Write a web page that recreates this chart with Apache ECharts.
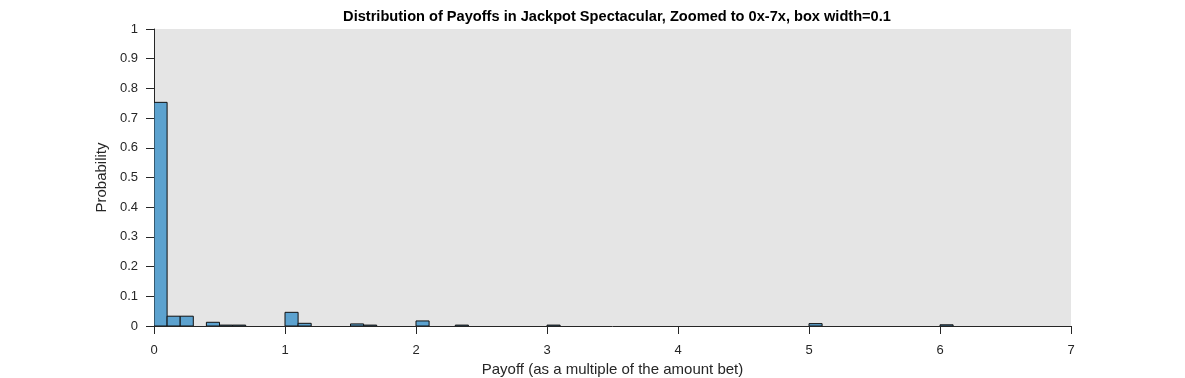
<!DOCTYPE html>
<html>
<head>
<meta charset="utf-8">
<script src="https://cdn.jsdelivr.net/npm/echarts@6/dist/echarts.min.js"></script>
<style>html,body{margin:0;padding:0;background:#fff}#c{width:1185px;height:378px}</style>
</head>
<body>
<div id="c"></div>
<script>
// Bin left edges (payoff, multiple of amount bet) and probabilities, bin width 0.1
const binStarts = [0.0, 0.1, 0.2, 0.4, 0.5, 0.6, 1.0, 1.1, 1.5, 1.6, 2.0, 2.3, 3.0, 5.0, 6.0];
const probabilities = [0.753, 0.033, 0.033, 0.0125, 0.003, 0.003, 0.046, 0.009, 0.007, 0.003, 0.017, 0.003, 0.003, 0.008, 0.004];
const binWidth = 0.1;
const xTicks = [0, 1, 2, 3, 4, 5, 6, 7];
const yTicks = [0, 0.1, 0.2, 0.3, 0.4, 0.5, 0.6, 0.7, 0.8, 0.9, 1];

const chart = echarts.init(document.getElementById('c'), null, {renderer: 'canvas'});
const font = 'Arial, "Liberation Sans", Helvetica, sans-serif';
const axisColor = '#262626';
chart.setOption({
  animation: false,
  title: {
    text: 'Distribution of Payoffs in Jackpot Spectacular, Zoomed to 0x-7x, box width=0.1',
    left: 612, top: 4, textAlign: 'center',
    textStyle: {fontFamily: font, fontSize: 14.6, fontWeight: 'bold', color: '#000'}
  },
  grid: {left: 154, right: 114, top: 29, bottom: 52, show: true, backgroundColor: '#e5e5e5',
    borderWidth: 0, outerBoundsMode: 'none', containLabel: false},
  xAxis: {
    type: 'value', min: xTicks[0], max: xTicks[xTicks.length - 1], interval: 1,
    name: 'Payoff (as a multiple of the amount bet)', nameLocation: 'middle', nameGap: 35,
    nameTextStyle: {fontFamily: font, fontSize: 15, color: axisColor},
    axisLine: {show: true, onZero: false, lineStyle: {color: axisColor, width: 1}},
    axisTick: {show: true, inside: false, length: 8, lineStyle: {color: axisColor}},
    axisLabel: {fontFamily: font, fontSize: 13, color: axisColor, margin: 18},
    splitLine: {show: false}
  },
  yAxis: {
    type: 'value', min: yTicks[0], max: yTicks[yTicks.length - 1], interval: 0.1,
    name: 'Probability', nameLocation: 'middle', nameGap: 34, nameRotate: 90,
    nameTextStyle: {fontFamily: font, fontSize: 15, color: axisColor},
    axisLine: {show: true, lineStyle: {color: axisColor, width: 1}},
    axisTick: {show: true, inside: false, length: 8, lineStyle: {color: axisColor}},
    axisLabel: {fontFamily: font, fontSize: 13, color: axisColor, margin: 16,
      formatter: v => String(Math.round(v * 10) / 10)},
    splitLine: {show: false}
  },
  series: [{
    type: 'custom',
    clip: true,
    data: binStarts.map((s, i) => [s, probabilities[i]]),
    renderItem: function (params, api) {
      const x0 = api.value(0), v = api.value(1);
      const p0 = api.coord([x0, 0]);
      const p1 = api.coord([x0 + binWidth, v]);
      return {
        type: 'rect',
        shape: {x: p0[0], y: p1[1], width: p1[0] - p0[0], height: p0[1] - p1[1]},
        style: {fill: '#5ca2cf', stroke: '#111', lineWidth: 1}
      };
    }
  }]
});
</script>
</body>
</html>
